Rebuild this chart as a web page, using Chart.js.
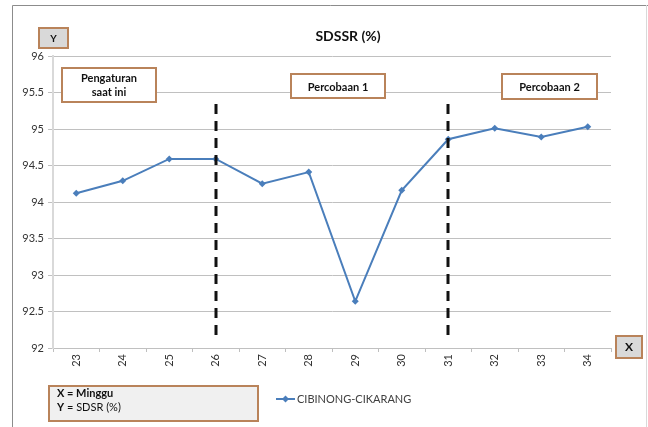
<!DOCTYPE html>
<html>
<head>
<meta charset="utf-8">
<script src="https://cdn.jsdelivr.net/npm/chart.js@4"></script>
<style>
    html, body { margin: 0; padding: 0; background: #fff; }
    #wrap { position: relative; width: 648px; height: 427px; }
</style>
</head>
<body>
<div id="wrap"><canvas id="sdssrChart" width="648" height="427"></canvas></div>
<script>
// Data minggu ke-23 s/d 34
const weeks = ['23', '24', '25', '26', '27', '28', '29', '30', '31', '32', '33', '34'];
const sdssrValues = [94.12, 94.29, 94.59, 94.59, 94.25, 94.41, 92.64, 94.16, 94.86, 95.01, 94.89, 95.03];
const seriesName = 'CIBINONG-CIKARANG';
const yTicks = [92, 92.5, 93, 93.5, 94, 94.5, 95, 95.5, 96];
const phaseBreaks = ['26', '31'];
const phaseLabels = [
    { text: ['Pengaturan', 'saat ini'], x: 62, y: 68, w: 94, h: 34 },
    { text: ['Percobaan 1'], x: 291, y: 74, w: 94, h: 24 },
    { text: ['Percobaan 2'], x: 502, y: 74, w: 95, h: 25 }
];

const FONT = "Lato, 'Open Sans', sans-serif";
const LINE_COLOR = '#4a7ebb';

function box(ctx, x, y, w, h, fill, stroke) {
    ctx.save();
    ctx.fillStyle = fill;
    ctx.fillRect(x, y, w, h);
    ctx.strokeStyle = stroke;
    ctx.lineWidth = 2;
    ctx.strokeRect(x, y, w, h);
    ctx.restore();
}

const decorPlugin = {
    id: 'decor',
    beforeDraw: function(chart) {
        const ctx = chart.ctx;
        ctx.save();
        ctx.fillStyle = '#fff';
        ctx.fillRect(0, 0, chart.width, chart.height);
        // bingkai luar
        ctx.strokeStyle = '#8c8c8c';
        ctx.lineWidth = 1;
        ctx.beginPath();
        ctx.moveTo(12.5, 427);
        ctx.lineTo(12.5, 5.5);
        ctx.lineTo(648, 5.5);
        ctx.stroke();
        ctx.strokeStyle = '#d9d9d9';
        ctx.beginPath();
        ctx.moveTo(646.5, 5);
        ctx.lineTo(646.5, 427);
        ctx.stroke();
        ctx.restore();
    },
    afterDatasetsDraw: function(chart) {
        const ctx = chart.ctx;
        const x = chart.scales.x;

        // garis putus-putus pemisah fase
        ctx.save();
        ctx.strokeStyle = '#111';
        ctx.lineWidth = 3;
        ctx.setLineDash([10, 7]);
        phaseBreaks.forEach(function(w) {
            const px = Math.round(x.getPixelForValue(weeks.indexOf(w)));
            ctx.beginPath();
            ctx.moveTo(px, 104);
            ctx.lineTo(px, 338);
            ctx.stroke();
        });
        ctx.restore();
    },
    afterDraw: function(chart) {
        const ctx = chart.ctx;
        ctx.save();
        ctx.textAlign = 'center';
        ctx.textBaseline = 'middle';

        // judul
        ctx.fillStyle = '#111';
        ctx.font = 'bold 14px ' + FONT;
        ctx.fillText('SDSSR (%)', 348, 36);

        // label fase
        phaseLabels.forEach(function(p) {
            box(ctx, p.x, p.y, p.w, p.h, '#ffffff', '#b9835a');
            ctx.fillStyle = '#111';
            ctx.font = 'bold 11px ' + FONT;
            const cx = p.x + p.w / 2;
            if (p.text.length === 2) {
                ctx.fillText(p.text[0], cx, p.y + 10);
                ctx.fillText(p.text[1], cx, p.y + 24);
            } else {
                ctx.fillText(p.text[0], cx, p.y + p.h / 2 + 1);
            }
        });

        // kotak sumbu Y dan X
        box(ctx, 39, 28, 29, 20, '#d9d9d9', '#b9835a');
        box(ctx, 616, 336, 26, 22, '#d9d9d9', '#b9835a');
        ctx.fillStyle = '#111';
        ctx.font = 'bold 10px ' + FONT;
        ctx.fillText('Y', 53.5, 38.5);
        ctx.font = 'bold 12px ' + FONT;
        ctx.fillText('X', 629, 347);

        // keterangan sumbu
        box(ctx, 49, 386, 209, 35, '#f0f0f0', '#b9835a');
        ctx.textAlign = 'left';
        ctx.font = 'bold 11px ' + FONT;
        ctx.fillText('X = Minggu', 57, 393);
        ctx.fillText('Y', 57, 407);
        const w = ctx.measureText('Y').width;
        ctx.font = '11px ' + FONT;
        ctx.fillText(' = SDSR (%)', 57 + w, 407);

        // legenda seri
        ctx.strokeStyle = LINE_COLOR;
        ctx.lineWidth = 2;
        ctx.beginPath();
        ctx.moveTo(276, 399);
        ctx.lineTo(295, 399);
        ctx.stroke();
        ctx.fillStyle = LINE_COLOR;
        ctx.beginPath();
        ctx.moveTo(285.5, 395.5);
        ctx.lineTo(289, 399);
        ctx.lineTo(285.5, 402.5);
        ctx.lineTo(282, 399);
        ctx.closePath();
        ctx.fill();
        ctx.fillStyle = '#404040';
        ctx.font = '11px ' + FONT;
        ctx.fillText(seriesName, 297, 399.5);
        ctx.restore();
    }
};

const canvas = document.getElementById('sdssrChart');
new Chart(canvas, {
    type: 'line',
    data: {
        labels: weeks,
        datasets: [{
            label: seriesName,
            data: sdssrValues,
            borderColor: LINE_COLOR,
            backgroundColor: LINE_COLOR,
            borderWidth: 2,
            pointStyle: 'rectRot',
            pointRadius: 3.5,
            pointBorderWidth: 0,
            tension: 0
        }]
    },
    options: {
        responsive: false,
        animation: false,
        layout: { padding: { left: 0, right: 37, top: 56, bottom: 49 } },
        plugins: {
            legend: { display: false },
            tooltip: { enabled: false }
        },
        scales: {
            x: {
                offset: true,
                grid: {
                    offset: true,
                    drawOnChartArea: false,
                    drawTicks: true,
                    tickLength: 4,
                    color: '#bfbfbf'
                },
                border: { display: false },
                ticks: {
                    minRotation: 90,
                    maxRotation: 90,
                    padding: 2,
                    color: '#333',
                    font: { family: FONT, size: 11 }
                },
                afterFit: function(scale) { scale.height = 30; }
            },
            y: {
                min: 92,
                max: 96,
                afterBuildTicks: function(scale) {
                    scale.ticks = yTicks.map(function(v) { return { value: v }; });
                },
                grid: {
                    color: '#c0c0c0',
                    lineWidth: 1,
                    tickLength: 5
                },
                border: { display: true, color: '#d9d9d9', width: 2 },
                ticks: {
                    padding: 4,
                    color: '#333',
                    font: { family: FONT, size: 11 },
                    callback: function(value) { return String(value); }
                },
                afterFit: function(scale) { scale.width = 53; }
            }
        }
    },
    plugins: [decorPlugin]
});
</script>
</body>
</html>
